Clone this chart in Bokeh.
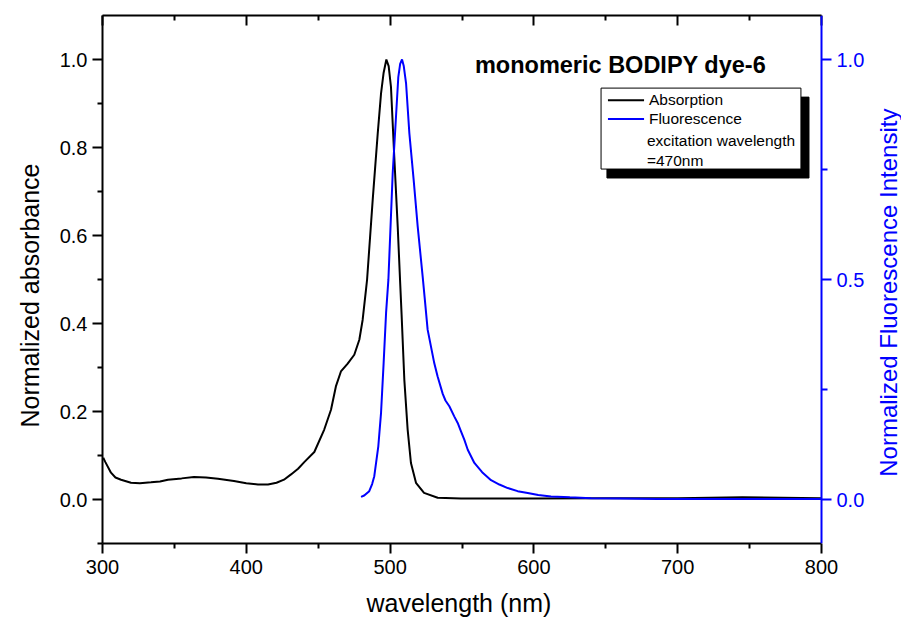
import math
from bokeh.plotting import figure
from bokeh.models import Range1d, LinearAxis, FixedTicker, Label, PrintfTickFormatter, Title
from bokeh.embed import file_html
from bokeh.resources import INLINE

# ---- data ----
abs_wl = [300.5, 302, 305.9, 309, 312.9, 319.8, 326, 333.7, 340, 345.5, 355, 363.6, 372,
          380.3, 391.4, 400, 408.1, 415.1, 421, 426.2, 431.1, 436, 440.3, 447.3, 454.2,
          458.9, 462.3, 465.8, 470.5, 475.1, 478.6, 480.9, 483.2, 484, 487.9, 491.4, 493.7,
          495.5, 497.4, 499, 500.6, 502.9, 505.3, 506.9, 508, 509.9, 512.2, 514.5, 518,
          523.6, 533.1, 549.3, 600, 650, 700, 745, 800]
abs_val = [0.095, 0.085, 0.061, 0.050, 0.045, 0.038, 0.037, 0.039, 0.041, 0.045, 0.048, 0.051, 0.050,
           0.047, 0.042, 0.037, 0.034, 0.034, 0.038, 0.045, 0.057, 0.070, 0.085, 0.108, 0.159,
           0.204, 0.257, 0.291, 0.309, 0.329, 0.363, 0.408, 0.476, 0.500, 0.681, 0.832, 0.923,
           0.970, 1.000, 0.985, 0.938, 0.779, 0.620, 0.500, 0.420, 0.272, 0.159, 0.083, 0.038,
           0.015, 0.004, 0.002, 0.002, 0.003, 0.003, 0.005, 0.003]

fl_wl = [479.8, 482, 485.5, 487.5, 489, 491.8, 493.7, 495.5, 497.2, 498.8, 501.8, 504.1, 505.7,
         507, 508.3, 509.5, 511.1, 513.4, 516.4, 519.2, 522.7, 524, 526.1, 530.7, 533, 536.6,
         538.5, 541.2, 544.6, 547, 549.3, 551.6, 554, 558.6, 564, 570.2, 576, 581.8, 588.7,
         595.7, 603, 611.9, 625, 639.7, 660, 686, 720, 760, 800]
fl_val = [0.006, 0.009, 0.019, 0.035, 0.053, 0.121, 0.197, 0.310, 0.424, 0.499, 0.741, 0.870, 0.960,
          0.990, 1.000, 0.985, 0.946, 0.832, 0.726, 0.620, 0.505, 0.460, 0.386, 0.310, 0.280, 0.240,
          0.225, 0.212, 0.189, 0.174, 0.155, 0.136, 0.113, 0.083, 0.062, 0.044, 0.034, 0.026, 0.019,
          0.015, 0.010, 0.007, 0.005, 0.003, 0.002, 0.001, 0.001, 0.001, 0.001]

x_ticks = [300, 400, 500, 600, 700, 800]
x_minor = [350, 450, 550, 650, 750]
left_ticks = [0.0, 0.2, 0.4, 0.6, 0.8, 1.0]
left_minor = [-0.1, 0.1, 0.3, 0.5, 0.7, 0.9]
right_ticks = [0.0, 0.5, 1.0]
right_minor = [0.25, 0.75]

title_text = "monomeric BODIPY dye-6"
x_label = "wavelength (nm)"
left_label = "Normalized absorbance"
right_label = "Normalized Fluorescence Intensity"
legend_labels = ["Absorption", "Fluorescence", "excitation wavelength", "=470nm"]

FONT = "Liberation Sans"
BLUE = "#0000FF"
BLACK = "#000000"

X0, X1 = 300, 800
AXIS_PX = 719          # pixel length of the 300-800 axis
FRAME_PX = 799         # frame extends past 800 so the right-axis title can sit inside it
x_end = X1 + (X1 - X0) * (FRAME_PX - AXIS_PX) / AXIS_PX

p = figure(frame_width=FRAME_PX, frame_height=528,
           min_border_left=102, min_border_right=0, min_border_top=15, min_border_bottom=60,
           x_range=Range1d(X0, x_end), y_range=Range1d(-0.1, 1.1),
           output_backend="svg", toolbar_location=None)
p.grid.visible = False
p.outline_line_color = None
p.background_fill_color = "white"
p.border_fill_color = "white"
p.extra_y_ranges = {"fl": Range1d(-0.1, 1.1)}


def style_axis(ax, color, label_size="20px"):
    ax.axis_line_color = color
    ax.axis_line_width = 2
    ax.major_tick_line_color = color
    ax.major_tick_line_width = 2
    ax.minor_tick_line_color = color
    ax.minor_tick_line_width = 2
    ax.major_label_text_color = color
    ax.major_label_text_font = FONT
    ax.major_label_text_font_size = label_size


# bottom axis
xa = p.xaxis[0]
style_axis(xa, BLACK)
xa.ticker = FixedTicker(ticks=x_ticks, minor_ticks=x_minor)
xa.bounds = (X0, X1)
xa.major_tick_in = 0
xa.major_tick_out = 10
xa.minor_tick_in = 0
xa.minor_tick_out = 5
xa.major_label_standoff = 6

# left axis
ya = p.yaxis[0]
style_axis(ya, BLACK)
ya.ticker = FixedTicker(ticks=left_ticks, minor_ticks=left_minor)
ya.formatter = PrintfTickFormatter(format="%.1f")
ya.major_tick_in = 0
ya.major_tick_out = 10
ya.minor_tick_in = 0
ya.minor_tick_out = 5
ya.major_label_standoff = 5

# top axis (ticks inward, no labels)
ta = LinearAxis(ticker=FixedTicker(ticks=x_ticks, minor_ticks=x_minor), bounds=(X0, X1))
style_axis(ta, BLACK, label_size="0px")
ta.major_tick_in = 10
ta.major_tick_out = 0
ta.minor_tick_in = 5
ta.minor_tick_out = 0
ta.major_label_standoff = 0
ta.major_label_text_alpha = 0
p.add_layout(ta, "above")

# right axis (blue), pinned at x = 800
ra = LinearAxis(y_range_name="fl", ticker=FixedTicker(ticks=right_ticks, minor_ticks=right_minor),
                formatter=PrintfTickFormatter(format="%.1f"), fixed_location=X1)
style_axis(ra, BLUE)
ra.major_tick_in = 0
ra.major_tick_out = 10
ra.minor_tick_in = 0
ra.minor_tick_out = 6
ra.major_label_standoff = 5
p.add_layout(ra, "right")

# axis titles
p.add_layout(Title(text=x_label, align="left", offset=264, standoff=21, text_font=FONT,
                   text_font_size="25px", text_font_style="normal", text_color=BLACK), "below")
p.add_layout(Title(text=left_label, align="left", offset=116, standoff=26, text_font=FONT,
                   text_font_size="25px", text_font_style="normal", text_color=BLACK), "left")

# curves
p.line(abs_wl, abs_val, color=BLACK, line_width=2)
p.line(fl_wl, fl_val, y_range_name="fl", color=BLUE, line_width=2)

# right axis title (reads bottom to top)
p.add_layout(Label(x=846.6, y=0.47, y_range_name="fl", text=right_label, angle=90, angle_units="deg",
                   text_align="center", text_baseline="alphabetic", text_font=FONT,
                   text_font_size="24px", text_color=BLUE))

# chart title inside the plot
p.add_layout(Label(x=559, y=0.987, text=title_text, text_align="left", text_baseline="alphabetic",
                   text_font=FONT, text_font_size="23.5px", text_font_style="bold", text_color=BLACK))

# legend with shadow
p.quad(left=[650.8], right=[791.3], top=[0.9145], bottom=[0.7307], fill_color=BLACK, line_color=BLACK)
p.quad(left=[646.7], right=[785.7], top=[0.935], bottom=[0.751], fill_color="white", line_color=BLACK,
       line_width=1)
p.segment(x0=[651.5, 651.5], y0=[0.9076, 0.8645], x1=[676.6, 676.6], y1=[0.9076, 0.8645],
          line_color=[BLACK, BLUE], line_width=2)
legend_x = [680, 680, 678.6, 678.6]
legend_y = [0.908, 0.865, 0.817, 0.771]
for t, lx, ly in zip(legend_labels, legend_x, legend_y):
    p.add_layout(Label(x=lx, y=ly, text=t, text_align="left", text_baseline="middle",
                       text_font=FONT, text_font_size="15.5px", text_color=BLACK))

open("out.html", "w").write(file_html(p, INLINE))
